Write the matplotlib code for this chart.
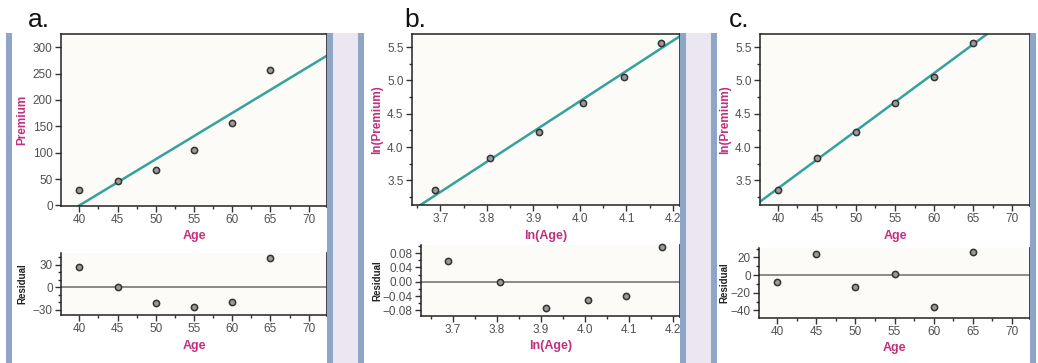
"""
Premium vs Age: three regression fits with residual plots underneath.
a. Premium ~ Age, b. ln(Premium) ~ ln(Age), c. ln(Premium) ~ Age.
"""

import matplotlib
matplotlib.use("Agg")
import matplotlib.pyplot as plt
from matplotlib.patches import Rectangle
from matplotlib.ticker import MultipleLocator

W, H = 1038, 363

# data
age = [40, 45, 50, 55, 60, 65]
premium = [29, 46, 68, 106, 157, 257]
ln_age = [3.689, 3.807, 3.912, 4.007, 4.094, 4.174]
ln_premium = [3.355, 3.84, 4.23, 4.655, 5.055, 5.555]

resid_a = [27, 1, -21, -26, -19, 39]
resid_b = [0.058, 0.0, -0.074, -0.051, -0.041, 0.098]
resid_c = [-8, 24, -13, 1, -36, 26]

# fitted lines, two end points each
fit_a_x, fit_a_y = [37.6, 72.4], [-21, 284]
fit_b_x, fit_b_y = [3.63, 4.22], [3.007, 5.686]
fit_c_x, fit_c_y = [37.7, 72.3], [3.18, 6.17]

MAGENTA = "#c0307f"
TEAL = "#33a39b"
BLUE_BAR = "#8ea5c8"
LAVENDER = "#ebe6f0"

plt.rcParams["font.family"] = ["Liberation Sans", "DejaVu Sans"]


def px_axes(fig, x0, x1, y0, y1):
    ax = fig.add_axes([x0 / W, 1 - y1 / H, (x1 - x0) / W, (y1 - y0) / H])
    ax._px = (x0, x1)
    return ax


def px_rect(fig, x0, x1, y0, y1, color):
    fig.patches.append(Rectangle((x0 / W, 1 - y1 / H), (x1 - x0) / W,
                                 (y1 - y0) / H, transform=fig.transFigure,
                                 facecolor=color, edgecolor="none", zorder=0))


def style(ax, xlim, ylim, xmaj, xmin, ymaj, ymin, top=True):
    ax.set_xlim(*xlim)
    ax.set_ylim(*ylim)
    ax.xaxis.set_major_locator(MultipleLocator(xmaj))
    ax.yaxis.set_major_locator(MultipleLocator(ymaj))
    if xmin:
        ax.xaxis.set_minor_locator(MultipleLocator(xmin))
    if ymin:
        ax.yaxis.set_minor_locator(MultipleLocator(ymin))
    ax.set_facecolor("#fcfbf8")
    ax.tick_params(which="major", direction="out", length=4, width=1,
                   color="#333", labelsize=8.5, labelcolor="#505050", pad=2)
    ax.tick_params(which="minor", direction="out", length=2.5, width=1,
                   color="#333")
    for s in ["left", "bottom", "top"]:
        ax.spines[s].set_color("#222")
        ax.spines[s].set_linewidth(1.1)
    ax.spines["right"].set_color("#333")
    ax.spines["right"].set_linewidth(2)
    if not top:
        ax.spines["top"].set_visible(False)


def ylabel_at(ax, text, px, color, size):
    # px is the wanted centre of the rotated label, in figure pixels
    ax.set_ylabel(text, color=color, fontweight="bold", fontsize=size)
    x0, x1 = ax._px
    ax.yaxis.set_label_coords((px + 5 - x0) / (x1 - x0), 0.5)


def scatter(ax, x, y):
    ax.plot(x, y, "o", ms=4.5, mfc="#9a9a9a", mec="#333", mew=1.1,
            zorder=3, clip_on=False)


def resid_panel(ax, x, r, xlabel, label_px):
    ax.axhline(0, color="#8a8a8a", lw=1.4, zorder=1)
    scatter(ax, x, r)
    ax.set_xlabel(xlabel, color=MAGENTA, fontweight="bold", fontsize=9,
                  labelpad=3)
    ylabel_at(ax, "Residual", label_px, "#222", 7)


fig = plt.figure(figsize=(W / 100, H / 100), dpi=100)
fig.patch.set_facecolor("white")

# panel backgrounds: blue edge bars with lavender gaps
for x0, x1 in [(6, 12), (327, 333), (358, 364), (680, 686), (711, 717), (1030, 1036)]:
    px_rect(fig, x0, x1, 33, H, BLUE_BAR)
for x0, x1 in [(333, 358), (686, 711)]:
    px_rect(fig, x0, x1, 33, H, LAVENDER)

for txt, x in [("a.", 28), ("b.", 404), ("c.", 729)]:
    fig.text(x / W, 1 - 27 / H, txt, fontsize=19, color="#111")

# a. Premium vs Age
ax = px_axes(fig, 61, 327, 34, 206)
style(ax, (37.6, 72.4), (-1, 325), 5, 2.5, 50, None)
ax.plot(fit_a_x, fit_a_y, color=TEAL, lw=1.8, zorder=2)
scatter(ax, age, premium)
ax.set_xlabel("Age", color=MAGENTA, fontweight="bold", fontsize=9, labelpad=3)
ylabel_at(ax, "Premium", 23, MAGENTA, 8.5)

ax = px_axes(fig, 61, 327, 253, 315)
style(ax, (37.6, 72.4), (-37, 46), 5, 2.5, 30, 10, top=False)
resid_panel(ax, age, resid_a, "Age", 22)

# b. ln(Premium) vs ln(Age)
ax = px_axes(fig, 412, 680, 34, 205)
style(ax, (3.639, 4.215), (3.13, 5.695), 0.1, 0.05, 0.5, 0.25)
ax.plot(fit_b_x, fit_b_y, color=TEAL, lw=1.8, zorder=2)
scatter(ax, ln_age, ln_premium)
ax.set_xlabel("ln(Age)", color=MAGENTA, fontweight="bold", fontsize=9, labelpad=3)
ylabel_at(ax, "ln(Premium)", 378, MAGENTA, 8.5)

ax = px_axes(fig, 421, 680, 245, 316)
style(ax, (3.627, 4.216), (-0.096, 0.103), 0.1, 0.05, 0.04, 0.02, top=False)
resid_panel(ax, ln_age, resid_b, "ln(Age)", 377)

# c. ln(Premium) vs Age
ax = px_axes(fig, 760, 1030, 34, 205)
style(ax, (37.7, 72.3), (3.13, 5.695), 5, 2.5, 0.5, 0.25)
ax.plot(fit_c_x, fit_c_y, color=TEAL, lw=1.8, zorder=2)
scatter(ax, age, ln_premium)
ax.set_xlabel("Age", color=MAGENTA, fontweight="bold", fontsize=9, labelpad=3)
ylabel_at(ax, "ln(Premium)", 726, MAGENTA, 8.5)

ax = px_axes(fig, 759, 1030, 248, 318)
style(ax, (37.7, 72.3), (-48.6, 30.6), 5, 2.5, 20, 10, top=False)
resid_panel(ax, age, resid_c, "Age", 724)

fig.savefig("out.png", dpi=100)
